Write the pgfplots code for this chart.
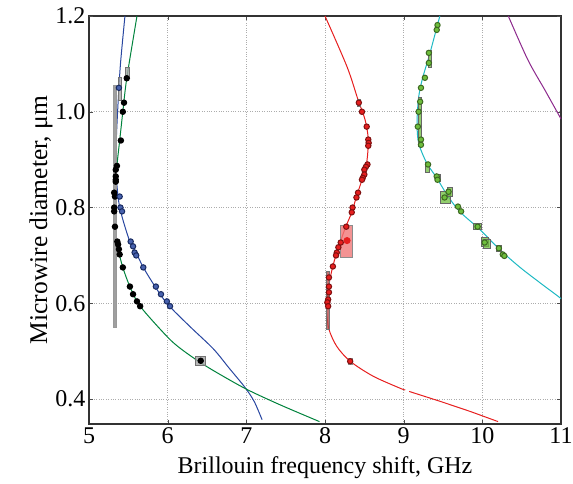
\documentclass[border=0pt]{standalone}
\usepackage{pgfplots}
\pgfplotsset{compat=1.18}
\usepackage{fontspec}
\setmainfont{Liberation Serif}
\definecolor{cblue}{RGB}{40,70,160}
\definecolor{cgreen}{RGB}{0,130,60}
\definecolor{cred}{RGB}{230,30,30}
\definecolor{ccyan}{RGB}{30,185,195}
\definecolor{cpurple}{RGB}{140,40,140}
\definecolor{mgreen}{RGB}{110,190,60}
\begin{document}
\begin{tikzpicture}
\begin{axis}[name=ax, scale only axis, width=472pt, height=408pt,
  xmin=5, xmax=11, ymin=0.348, ymax=1.2,
  xtick={5,6,...,11}, ytick={0.4,0.6,0.8,1.0},
  yticklabels={0.4,0.6,0.8,1.0}, extra y ticks={1.2}, extra y tick labels={1.2},
  extra y tick style={grid=none},
  grid=major, grid style={gray!65, dotted, line width=0.7pt},
  axis line style={line width=1.3pt, black!80},
  tick style={black!70}, tick align=inside,
  /pgf/number format/assume math mode=true,
  tick label style={font=\fontsize{24}{28}\selectfont},
  xlabel style={font=\fontsize{24}{28}\selectfont, yshift=-6pt},
  ylabel style={font=\fontsize{25.5}{30}\selectfont, yshift=-4pt},
  xlabel={Brillouin frequency shift, GHz},
  ylabel={Microwire diameter, μm},
  every axis plot/.append style={line width=1pt},
  boxgray/.style={draw=black!55, line width=0.5pt, fill=gray!70, fill opacity=0.8},
  boxred/.style={draw=black!45, line width=0.5pt, fill=cred!60, fill opacity=0.8},
  boxgreen/.style={draw=black!60, line width=0.5pt, fill=mgreen, fill opacity=0.75},
]
% model curves
\addplot[cblue, smooth] coordinates {(5.457,1.2)(5.40,1.10)(5.37,1.02)(5.345,0.93)(5.35,0.86)(5.38,0.81)(5.43,0.775)(5.52,0.729)(5.61,0.702)(5.69,0.675)(5.84,0.635)(6.00,0.598)(6.28,0.552)(6.58,0.505)(6.78,0.465)(6.98,0.425)(7.10,0.395)(7.20,0.357)};
\addplot[cgreen, smooth] coordinates {(5.61,1.2)(5.48,1.07)(5.43,1.0)(5.39,0.94)(5.355,0.887)(5.335,0.83)(5.33,0.76)(5.36,0.72)(5.43,0.675)(5.52,0.635)(5.65,0.594)(5.99,0.531)(6.16,0.506)(6.41,0.477)(6.66,0.452)(7.01,0.420)(7.43,0.388)(7.93,0.353)};
\addplot[cred, smooth] coordinates {(8.00,1.2)(8.28,1.094)(8.42,1.025)(8.51,0.983)(8.55,0.942)(8.53,0.894)(8.47,0.858)(8.40,0.823)(8.34,0.79)(8.25,0.754)(8.15,0.706)(8.09,0.671)(8.04,0.629)(8.02,0.587)(8.05,0.546)(8.15,0.51)(8.32,0.479)(8.61,0.448)(8.95,0.423)(9.02,0.419)};
\addplot[cred] coordinates {(9.07,0.416)(9.47,0.395)(9.85,0.374)(10.20,0.353)};
\addplot[ccyan, smooth] coordinates {(9.46,1.2)(9.33,1.12)(9.24,1.07)(9.19,1.03)(9.17,0.977)(9.19,0.935)(9.29,0.894)(9.42,0.862)(9.55,0.827)(9.71,0.792)(9.97,0.754)(10.22,0.7125)(10.51,0.671)(10.96,0.615)(11.0,0.61)};
\addplot[cpurple, smooth] coordinates {(10.33,1.2)(10.58,1.108)(10.80,1.044)(11.0,0.985)};
% error boxes
\addplot[draw=gray!80, line width=0.4pt, fill=gray!75] coordinates {(5.31,0.55)(5.342,0.55)(5.342,1.055)(5.31,1.055)} --cycle;
\addplot[boxgray] coordinates {(5.37,1.025)(5.41,1.025)(5.41,1.073)(5.37,1.073)} --cycle;
\addplot[boxgray] coordinates {(5.46,1.069)(5.51,1.069)(5.51,1.094)(5.46,1.094)} --cycle;
\addplot[boxgray] coordinates {(6.35,0.47)(6.48,0.47)(6.48,0.49)(6.35,0.49)} --cycle;
\addplot[boxred] coordinates {(8.20,0.696)(8.34,0.696)(8.34,0.7625)(8.20,0.7625)} --cycle;
\addplot[boxgray, fill=cred!50!gray] coordinates {(8.02,0.546)(8.06,0.546)(8.06,0.667)(8.02,0.667)} --cycle;
\addplot[boxgray, fill=cred!50!gray] coordinates {(8.41,1.012)(8.45,1.012)(8.45,1.027)(8.41,1.027)} --cycle;
\addplot[boxred] coordinates {(8.30,0.473)(8.35,0.473)(8.35,0.486)(8.30,0.486)} --cycle;
\addplot[boxgreen] coordinates {(9.31,1.094)(9.35,1.094)(9.35,1.129)(9.31,1.129)} --cycle;
\addplot[boxgreen] coordinates {(9.18,0.927)(9.22,0.927)(9.22,1.031)(9.18,1.031)} --cycle;
\addplot[boxgreen] coordinates {(9.28,0.873)(9.33,0.873)(9.33,0.894)(9.28,0.894)} --cycle;
\addplot[boxgreen] coordinates {(9.40,0.854)(9.46,0.854)(9.46,0.869)(9.40,0.869)} --cycle;
\addplot[boxgreen] coordinates {(9.46,0.808)(9.59,0.808)(9.59,0.833)(9.46,0.833)} --cycle;
\addplot[boxgreen] coordinates {(9.55,0.823)(9.62,0.823)(9.62,0.842)(9.55,0.842)} --cycle;
\addplot[boxgreen] coordinates {(9.89,0.754)(9.98,0.754)(9.98,0.767)(9.89,0.767)} --cycle;
\addplot[boxgreen] coordinates {(9.98,0.719)(10.07,0.719)(10.07,0.7375)(9.98,0.7375)} --cycle;
\addplot[boxgreen] coordinates {(10.01,0.716)(10.10,0.716)(10.10,0.733)(10.01,0.733)} --cycle;
\addplot[boxgreen] coordinates {(10.18,0.709)(10.24,0.709)(10.24,0.721)(10.18,0.721)} --cycle;
% measured points
\addplot[only marks, mark=*, mark size=2.7pt, mark options={fill=black, draw=black}] coordinates {
(5.48,1.07)(5.445,1.019)(5.43,1.0)(5.405,0.94)(5.355,0.887)(5.34,0.879)(5.34,0.865)(5.34,0.858)
(5.34,0.854)(5.32,0.831)(5.33,0.823)(5.32,0.80)(5.32,0.792)(5.33,0.76)(5.36,0.729)(5.37,0.723)
(5.38,0.713)(5.39,0.702)(5.43,0.675)(5.52,0.635)(5.56,0.619)(5.61,0.604)(5.65,0.594)(6.42,0.48)};
\addplot[only marks, mark=*, mark size=2.7pt, mark options={fill=cblue!85, draw=cblue!60!black}] coordinates {
(5.38,1.05)(5.39,0.823)(5.40,0.80)(5.42,0.792)(5.53,0.729)(5.56,0.719)(5.58,0.706)(5.60,0.70)
(5.69,0.675)(5.85,0.635)(5.915,0.619)(5.99,0.604)(6.03,0.594)};
\addplot[only marks, mark=*, mark size=2.7pt, mark options={fill=cred, draw=cred!55!black}] coordinates {
(8.43,1.019)(8.47,1.0)(8.53,0.969)(8.55,0.942)(8.555,0.935)(8.55,0.929)(8.54,0.89)(8.52,0.885)
(8.50,0.879)(8.50,0.869)(8.48,0.862)(8.47,0.858)(8.42,0.831)(8.40,0.821)(8.35,0.80)(8.34,0.79)
(8.27,0.76)(8.20,0.727)(8.17,0.717)(8.15,0.706)(8.14,0.70)(8.10,0.677)
(8.05,0.654)(8.05,0.635)(8.05,0.623)(8.04,0.608)(8.03,0.602)(8.04,0.594)(8.32,0.479)};
\addplot[only marks, mark=*, mark size=3pt, mark options={fill=cred, draw=cred}] coordinates {(8.28,0.731)};
\addplot[only marks, mark=*, mark size=2.7pt, mark options={fill=mgreen, draw=mgreen!55!black}] coordinates {
(9.43,1.181)(9.42,1.171)(9.32,1.123)(9.32,1.102)(9.27,1.071)(9.22,1.05)(9.21,1.021)(9.19,1.0)
(9.18,0.969)(9.22,0.942)(9.22,0.931)(9.31,0.89)(9.42,0.865)(9.43,0.858)(9.52,0.821)(9.57,0.833)
(9.69,0.802)(9.73,0.792)(9.94,0.76)(10.03,0.727)(10.21,0.715)(10.26,0.702)(10.28,0.699)};
\end{axis}
\pgfresetboundingbox
\path ([shift={(-89pt,-59pt)}]ax.south west) rectangle ([shift={(12pt,16pt)}]ax.north east);
\end{tikzpicture}
\end{document}
